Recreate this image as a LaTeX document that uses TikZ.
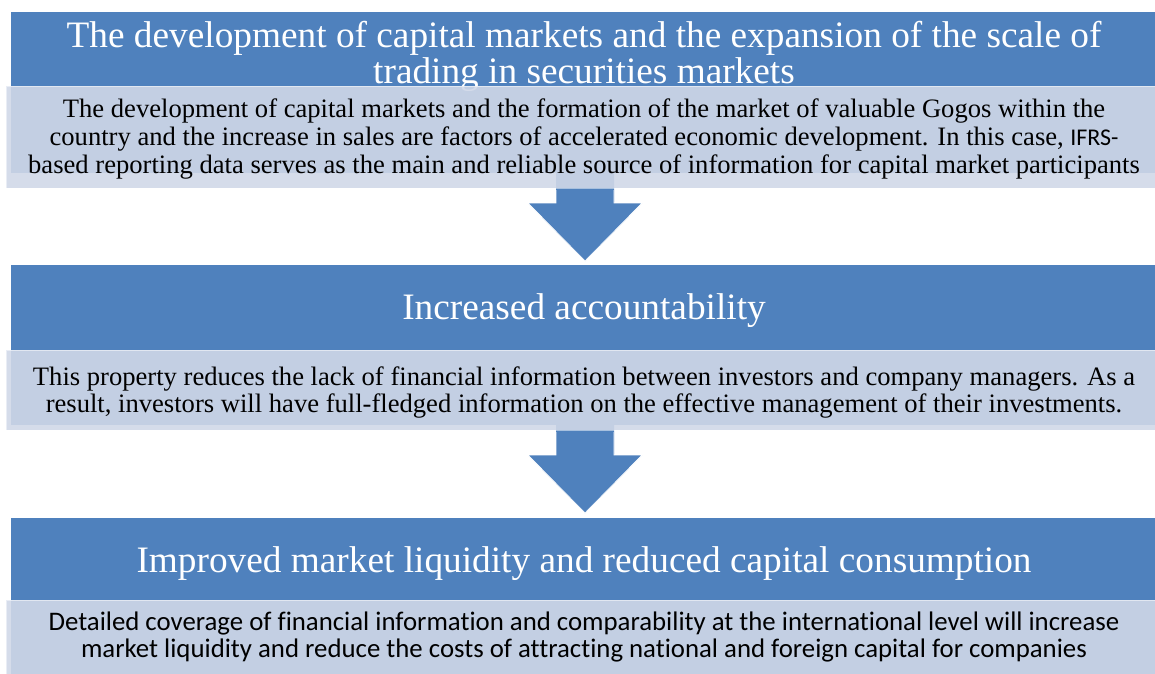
\documentclass[tikz,border=0pt]{standalone}
\usepackage{fontspec}
\setmainfont{Liberation Serif}
\newfontfamily\calibrisub[Ligatures=NoCommon]{Carlito}
\definecolor{hdrblue}{HTML}{4F81BD}
\definecolor{boxblue}{HTML}{D0D8E8}
\begin{document}
\begin{tikzpicture}[x=1pt,y=-1pt,
  hdr/.style={fill=hdrblue,draw=none,inner sep=0,anchor=north west,minimum width=1146pt},
  txtbox/.style={fill=boxblue,fill opacity=0.9,draw=white,draw opacity=0.5,line width=0.6pt,
                 inner sep=0,anchor=north west,minimum width=1156pt},
  hdrtext/.style={anchor=base,inner sep=0,text=white,font=\fontsize{37.3}{40}\selectfont},
  bodytext/.style={anchor=base,inner sep=0,text=black,font=\fontsize{26.6}{29}\selectfont},
  sanstext/.style={anchor=base,inner sep=0,text=black,font=\calibrisub\fontsize{26.8}{29}\selectfont},
  blockarrow/.style={fill=hdrblue,draw=white,line width=0.7pt,line join=miter}]
\useasboundingbox (0,0) rectangle (1155,673);
\clip (0,0) rectangle (1155,673);

% first stage
\node[hdr,minimum height=161pt] (h1) at (11,12) {};
\node[hdrtext] (h1a) at (584,47) {The development of capital markets and the expansion of the scale of};
\node[hdrtext] (h1b) at (584,83) {trading in securities markets};
\fill[hdrblue] (556,165) coordinate (a1top) -- (614,165) -- (614,203) -- (642,203)
  -- (585,261) coordinate (a1tip) -- (528,203) -- (556,203) -- cycle;
\draw[blockarrow] (556,190) -- (556,203) -- (528,203) -- (585,261) -- (642,203) -- (614,203) -- (614,190);
\node[txtbox,minimum height=102pt] (b1) at (6,86) {};
\node[bodytext] (b1a) at (584,117) {The development of capital markets and the formation of the market of valuable Gogos within the};
\node[bodytext] (b1b) at (584,145) {country and the increase in sales are factors of accelerated economic development. In this case, {\calibrisub\fontsize{24}{28}\selectfont IFRS-}};
\node[bodytext] (b1c) at (584,173) {based reporting data serves as the main and reliable source of information for capital market participants};

% second stage
\node[hdr,minimum height=160pt] (h2) at (11,265) {};
\node[hdrtext] (h2a) at (584,319) {Increased accountability};
\fill[hdrblue] (556,417) -- (614,417) -- (614,455) -- (642,455)
  -- (585,513) -- (528,455) -- (556,455) -- cycle;
\draw[blockarrow] (556,432) -- (556,455) -- (528,455) -- (585,513) -- (642,455) -- (614,455) -- (614,432);
\node[txtbox,minimum height=80pt] (b2) at (6,350) {};
\node[bodytext] (b2a) at (584,385) {This property reduces the lack of financial information between investors and company managers. As a};
\node[bodytext] (b2b) at (584,412) {result, investors will have full-fledged information on the effective management of their investments.};

% third stage
\node[hdr,minimum height=200pt] (h3) at (11,518) {};
\node[hdrtext] (h3a) at (584,572) {Improved market liquidity and reduced capital consumption};
\node[txtbox,minimum height=100pt] (b3) at (6,600) {};
\node[sanstext] (b3a) at (584,630) {Detailed coverage of financial information and comparability at the international level will increase};
\node[sanstext] (b3b) at (584,657) {market liquidity and reduce the costs of attracting national and foreign capital for companies};
\end{tikzpicture}
\end{document}
